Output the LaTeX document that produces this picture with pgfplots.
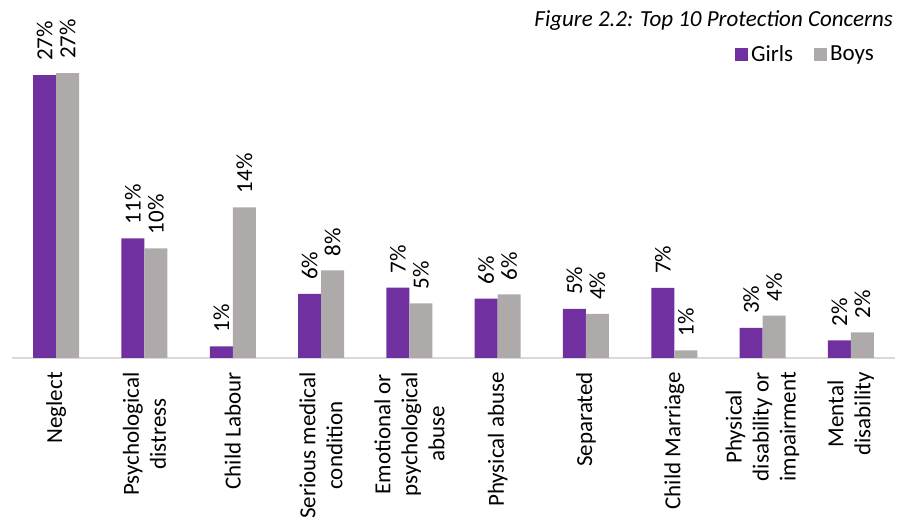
\documentclass[border=0pt]{standalone}
\usepackage{pgfplots}
\pgfplotsset{compat=1.18}
\usepackage{fontspec}
\setmainfont{Carlito}
\definecolor{girls}{HTML}{7030A0}
\definecolor{boys}{HTML}{AEAAAA}
\definecolor{axisgray}{HTML}{D9D9D9}
\begin{document}
\begin{tikzpicture}
\path[use as bounding box] (0,0) rectangle (905pt,529pt);
\begin{axis}[
  at={(12pt,171pt)}, anchor=south west,
  scale only axis, width=883pt, height=315pt,
  ybar=0pt, bar width=23pt,
  xmin=-0.5, xmax=9.5, ymin=0, ymax=30,
  enlargelimits=false, clip=false,
  axis x line*=bottom, axis y line=none,
  x axis line style={draw=axisgray, line width=1.5pt, -},
  xtick={0,...,9}, xtick style={draw=none}, major tick length=0pt,
  xticklabels={Neglect, {Psychological\\distress}, Child Labour, {Serious medical\\condition}, {Emotional or\\psychological\\abuse}, Physical abuse, Separated, Child Marriage, {Physical\\disability or\\impairment}, {Mental\\disability}},
  xticklabel style={rotate=90, anchor=east, align=center, font=\fontsize{23}{27}\selectfont, inner xsep=14pt, text=black},
  nodes near coords={\pgfmathprintnumber[fixed,precision=0,assume math mode=true]{\pgfplotspointmeta}\%},
  every node near coord/.append style={rotate=90, anchor=west, font=\fontsize{23}{27}\selectfont, inner xsep=14pt, text=black},
  legend columns=2,
  legend style={draw=none, fill=none, at={(0.983,0.965)}, anchor=east, font=\fontsize{23}{27}\selectfont, /tikz/every even column/.append style={column sep=18pt}, nodes={inner xsep=3pt}},
  legend image code/.code={\path[#1, draw=none] (0pt,-6.5pt) rectangle (13pt,6.5pt);},
]
\addplot[fill=girls, draw=none] coordinates {(0,26.95) (1,11.4) (2,1.1) (3,6.1) (4,6.7) (5,5.65) (6,4.67) (7,6.67) (8,2.86) (9,1.68)};
\addplot[fill=boys, draw=none] coordinates {(0,27.14) (1,10.45) (2,14.35) (3,8.35) (4,5.2) (5,6.05) (6,4.2) (7,0.73) (8,4.03) (9,2.44)};
\legend{Girls, Boys}
\node[anchor=base east, inner sep=0pt, font=\itshape\fontsize{23}{27}\selectfont] at (axis description cs:0.9977,1.0508) {Figure 2.2: Top 10 Protection Concerns};
\end{axis}
\end{tikzpicture}
\end{document}
